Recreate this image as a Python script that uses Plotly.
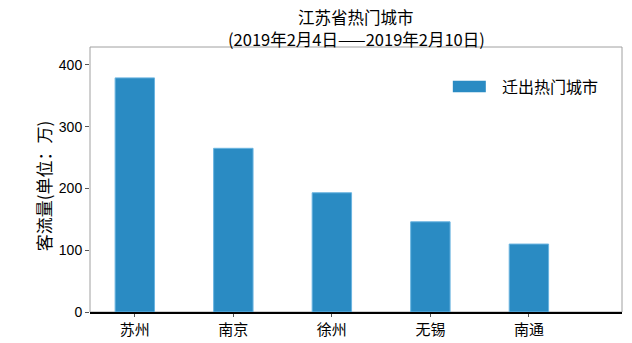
import plotly.graph_objects as go

cities = ["苏州", "南京", "徐州", "无锡", "南通"]
values = [379, 265, 193, 146, 110]
series_name = "迁出热门城市"
title_line1 = "江苏省热门城市"
title_line2 = "(2019年2月4日——2019年2月10日)"
y_title = "客流量(单位：万)"
y_ticks = [0, 100, 200, 300, 400]

FONT = "Liberation Sans, Noto Sans CJK SC, sans-serif"
CJK = "Noto Sans CJK SC, sans-serif"
BAR_COLOR = "#2a8bc3"

x_pos = list(range(len(cities)))

fig = go.Figure()
fig.add_trace(go.Bar(
    x=x_pos, y=values, name=series_name, width=0.4, showlegend=False,
    marker=dict(color=BAR_COLOR, line=dict(color="#6ab4e0", width=1)),
))

annotations = [
    dict(text=title_line1, xref="paper", yref="paper", x=0.5, y=1.115,
         xanchor="center", yanchor="middle", showarrow=False,
         font=dict(family=CJK, size=16.5, color="black")),
    dict(text=title_line2, xref="paper", yref="paper", x=0.5, y=1.031,
         xanchor="center", yanchor="middle", showarrow=False,
         font=dict(family=CJK, size=16.5, color="black")),
    dict(text=series_name, xref="paper", yref="paper", x=0.771, y=0.851,
         xanchor="left", yanchor="middle", showarrow=False,
         font=dict(family=CJK, size=16, color="black")),
    dict(text=y_title, xref="paper", yref="paper", x=-0.088, y=0.475,
         xanchor="center", yanchor="middle", showarrow=False, textangle=-90,
         font=dict(family=CJK, size=17, color="black")),
]

fig.update_layout(
    width=632, height=343,
    margin=dict(l=90, r=10, t=47, b=31, autoexpand=False),
    paper_bgcolor="white", plot_bgcolor="white",
    showlegend=False,
    xaxis=dict(
        range=[-0.455, 4.945], tickmode="array", tickvals=x_pos, ticktext=cities,
        ticks="outside", ticklen=3, tickcolor="#555", showgrid=False, zeroline=False,
        showline=True, linecolor="black", linewidth=2, automargin=False,
        tickfont=dict(family=CJK, size=15, color="black"),
    ),
    yaxis=dict(
        range=[0, 429], tickmode="array", tickvals=y_ticks,
        ticks="outside", ticklen=4, tickcolor="#555", showgrid=False, zeroline=False,
        showline=False, automargin=False,
        tickfont=dict(family=FONT, size=14, color="black"),
    ),
    annotations=annotations,
    shapes=[
        dict(type="rect", xref="paper", yref="paper", x0=0, x1=1, y0=0, y1=1,
             line=dict(color="#a0a0a0", width=1), layer="below"),
        dict(type="rect", xref="paper", yref="paper", x0=0.682, x1=0.744, y0=0.829, y1=0.873,
             fillcolor=BAR_COLOR, line=dict(width=0)),
    ],
)

fig.write_html("out.html")
